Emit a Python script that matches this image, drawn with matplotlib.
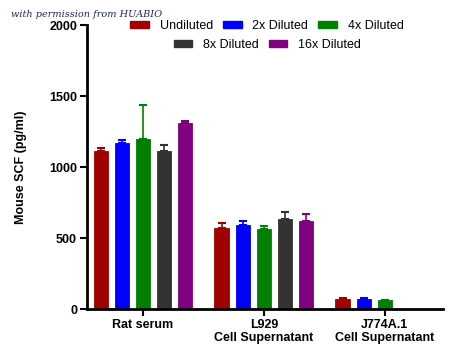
import matplotlib.pyplot as plt
import numpy as np
from matplotlib.patches import Patch

plt.rcParams['font.family'] = ['Liberation Sans', 'DejaVu Sans']

groups = ["Rat serum", "L929\nCell Supernatant", "J774A.1\nCell Supernatant"]
series = ["Undiluted", "2x Diluted", "4x Diluted", "8x Diluted", "16x Diluted"]
colors = ["#a00000", "#0000ff", "#007f00", "#333333", "#800080"]

means = [
    [1113, 568, 73],
    [1169, 592, 70],
    [1197, 563, 61],
    [1115, 634, np.nan],
    [1308, 620, np.nan],
]
errors = [
    [23, 35, 5],
    [19, 26, 5],
    [240, 22, 5],
    [40, 47, np.nan],
    [18, 47, np.nan],
]

fig = plt.figure(figsize=(4.5, 3.59), dpi=100)
ax = fig.add_axes([0.193, 0.139, 0.791, 0.791])

x = np.arange(len(groups))
step = 0.175
width = 0.116
for i, (name, col) in enumerate(zip(series, colors)):
    pos = x + (i - 2) * step
    vals = np.array(means[i], dtype=float)
    errs = np.array(errors[i], dtype=float)
    ax.bar(pos, vals, width, color=col, edgecolor=col, linewidth=0.6, zorder=2)
    ax.errorbar(pos, vals, yerr=[np.zeros_like(errs), errs], fmt="none",
                ecolor=col, elinewidth=1.2, capsize=3, capthick=1.5, zorder=1)

ax.set_xlim(-0.463, 2.479)
ax.set_ylim(0, 2000)
ax.set_yticks([0, 500, 1000, 1500, 2000])
ax.set_xticks(x)
ax.set_xticklabels(groups, fontweight="bold", fontsize=9, linespacing=1.15)
for lab in ax.get_yticklabels():
    lab.set_fontweight("bold")
    lab.set_fontsize(9)
ax.set_ylabel("Mouse SCF (pg/ml)", fontweight="bold", fontsize=9, labelpad=16)

for s in ["top", "right"]:
    ax.spines[s].set_visible(False)
for s in ["left", "bottom"]:
    ax.spines[s].set_linewidth(2)
ax.tick_params(axis="both", direction="out", length=5, width=1.5, pad=2)

handles = [Patch(facecolor=c, edgecolor=c) for c in colors]
opts = dict(frameon=False, fontsize=9, handlelength=1.5, handleheight=0.45,
            columnspacing=0.8, handletextpad=0.85, borderpad=0, loc="center")
fig.legend(handles[:3], series[:3], ncol=3, bbox_to_anchor=(0.593, 0.928), **opts)
fig.legend(handles[3:], series[3:], ncol=2, bbox_to_anchor=(0.594, 0.875), **opts)

fig.text(0.025, 0.952, "with permission from HUABIO", fontsize=7,
         family="DejaVu Serif", style="italic", color="#1f2a5c")

fig.savefig("out.png", dpi=100)
